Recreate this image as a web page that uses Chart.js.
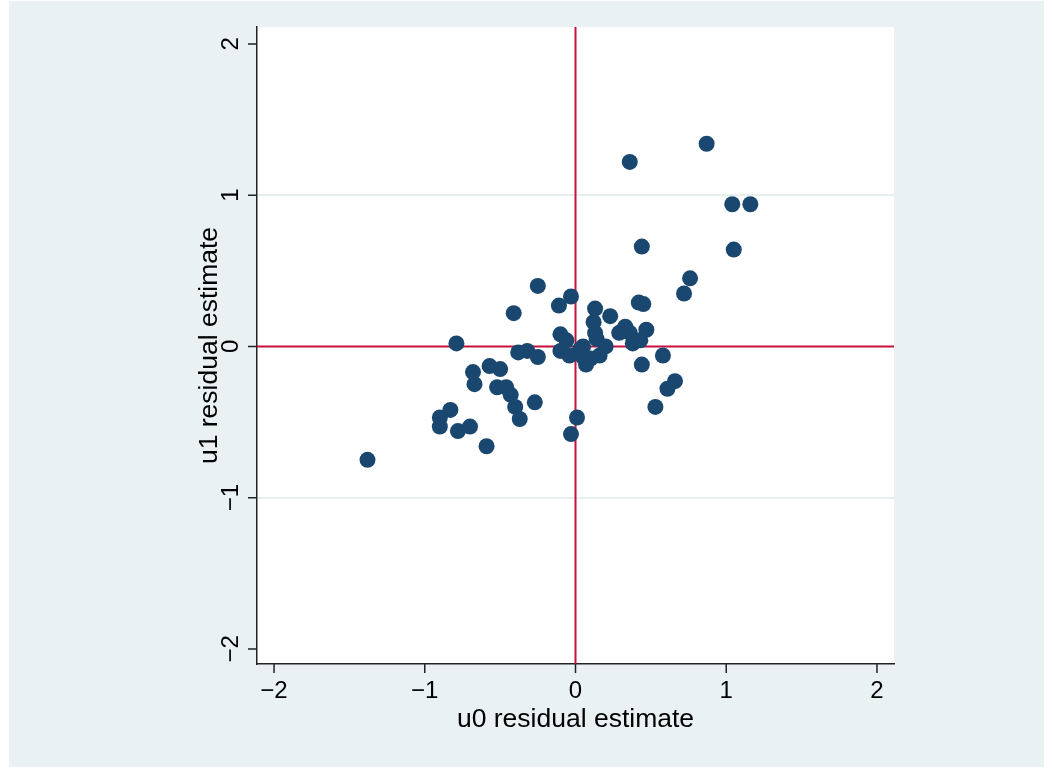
<!DOCTYPE html>
<html>
<head>
<meta charset="utf-8">
<script src="https://cdn.jsdelivr.net/npm/chart.js@4.4.0/dist/chart.umd.min.js"></script>
<style>
  html, body { margin: 0; padding: 0; background: #ffffff; }
  #wrap { width: 1053px; height: 768px; }
</style>
</head>
<body>
<div id="wrap"><canvas id="resid"></canvas></div>
<script>
// residual estimates, one point per school
var u0 = [-1.38, -0.90, -0.83, -0.90, -0.78, -0.70, -0.59, -0.79, -0.68, -0.67,
          -0.57, -0.50, -0.52, -0.46, -0.43, -0.40, -0.37, -0.27, -0.41, -0.38,
          -0.32, -0.25, -0.25, -0.11, -0.03, -0.10, -0.06, -0.10, -0.04, -0.03,
           0.01,  0.05,  0.05,  0.07,  0.03,  0.13,  0.23,  0.12,  0.13,  0.14,
           0.16,  0.20,  0.10,  0.29,  0.33,  0.36,  0.38,  0.43,  0.47,  0.42,
           0.45,  0.44,  0.36,  0.87,  1.04,  1.16,  1.05,  0.44,  0.76,  0.72,
           0.58,  0.66,  0.61,  0.53];
var u1 = [-0.75, -0.47, -0.42, -0.53, -0.56, -0.53, -0.66,  0.02, -0.17, -0.25,
          -0.13, -0.15, -0.27, -0.27, -0.32, -0.40, -0.48, -0.37,  0.22, -0.04,
          -0.03, -0.07,  0.40,  0.27,  0.33,  0.08,  0.04, -0.03, -0.06, -0.58,
          -0.47,  0.00, -0.07, -0.12, -0.02,  0.25,  0.20,  0.16,  0.09,  0.05,
          -0.06,  0.00, -0.08,  0.09,  0.13,  0.09,  0.02,  0.04,  0.11,  0.29,
           0.28, -0.12,  1.22,  1.34,  0.94,  0.94,  0.64,  0.66,  0.45,  0.35,
          -0.06, -0.23, -0.28, -0.40];
var xTicks = [-2, -1, 0, 1, 2];
var yTicks = [-2, -1, 0, 1, 2];
var xTitle = 'u0 residual estimate';
var yTitle = 'u1 residual estimate';

var pts = u0.map(function (x, i) { return { x: x, y: u1[i] }; });

function fmt(v) { return v < 0 ? '\u2212' + Math.abs(v) : String(v); }

// background, zero lines, ticks and texts in Stata style
var stataLook = {
  id: 'stataLook',
  beforeDraw: function (chart) {
    var c = chart.ctx, a = chart.chartArea;
    c.save();
    c.fillStyle = '#eaf1f3';
    c.fillRect(9, 1, 1035, 766);
    c.fillStyle = '#ffffff';
    c.fillRect(a.left, a.top, a.right - a.left, a.bottom - a.top);
    c.restore();
  },
  beforeDatasetsDraw: function (chart) {
    var c = chart.ctx, a = chart.chartArea;
    var x0 = chart.scales.x.getPixelForValue(0);
    var y0 = chart.scales.y.getPixelForValue(0);
    c.save();
    c.strokeStyle = '#c8103f';
    c.lineWidth = 2;
    c.beginPath();
    c.moveTo(x0, a.top); c.lineTo(x0, a.bottom);
    c.moveTo(a.left, y0); c.lineTo(a.right, y0);
    c.stroke();
    c.restore();
  },
  afterDraw: function (chart) {
    var c = chart.ctx, a = chart.chartArea;
    var xs = chart.scales.x, ys = chart.scales.y;
    c.save();
    c.strokeStyle = '#222222';
    c.lineWidth = 1.5;
    c.fillStyle = '#000000';
    c.beginPath();
    xTicks.forEach(function (v) {
      var px = xs.getPixelForValue(v);
      c.moveTo(px, a.bottom); c.lineTo(px, a.bottom + 9);
    });
    yTicks.forEach(function (v) {
      var py = ys.getPixelForValue(v);
      c.moveTo(a.left, py); c.lineTo(a.left - 9, py);
    });
    c.stroke();
    c.font = '24px "Liberation Sans", Arial, sans-serif';
    c.textAlign = 'center';
    c.textBaseline = 'middle';
    xTicks.forEach(function (v) {
      c.fillText(fmt(v), xs.getPixelForValue(v), a.bottom + 27);
    });
    yTicks.forEach(function (v) {
      c.save();
      c.translate(a.left - 26, ys.getPixelForValue(v));
      c.rotate(-Math.PI / 2);
      c.fillText(fmt(v), 0, 0);
      c.restore();
    });
    c.font = '26.5px "Liberation Sans", Arial, sans-serif';
    c.fillText(xTitle, (a.left + a.right) / 2, a.bottom + 56);
    c.save();
    c.translate(a.left - 47, (a.top + a.bottom) / 2);
    c.rotate(-Math.PI / 2);
    c.fillText(yTitle, 0, 0);
    c.restore();
    c.restore();
  }
};

new Chart(document.getElementById('resid').getContext('2d'), {
  type: 'scatter',
  data: {
    datasets: [{
      data: pts,
      backgroundColor: '#1a476f',
      borderColor: '#1a476f',
      pointRadius: 8,
      pointHoverRadius: 8,
      borderWidth: 0
    }]
  },
  plugins: [stataLook],
  options: {
    responsive: true,
    maintainAspectRatio: false,
    animation: false,
    layout: { padding: { left: 257, right: 159, top: 27, bottom: 104 } },
    plugins: { legend: { display: false }, tooltip: { enabled: false } },
    scales: {
      x: {
        min: -2.113, max: 2.113,
        afterBuildTicks: function (s) { s.ticks = xTicks.map(function (v) { return { value: v }; }); },
        ticks: { display: false },
        grid: { display: false, drawTicks: false },
        border: { display: true, color: '#222222', width: 1.5 }
      },
      y: {
        min: -2.1, max: 2.112,
        afterBuildTicks: function (s) { s.ticks = yTicks.map(function (v) { return { value: v }; }); },
        ticks: { display: false },
        grid: {
          drawTicks: false,
          lineWidth: 2,
          color: function (ctx) {
            var v = ctx.tick && ctx.tick.value;
            return (v === 1 || v === -1) ? '#e6eef0' : 'rgba(0,0,0,0)';
          }
        },
        border: { display: true, color: '#222222', width: 1.5 }
      }
    }
  }
});
</script>
</body>
</html>
